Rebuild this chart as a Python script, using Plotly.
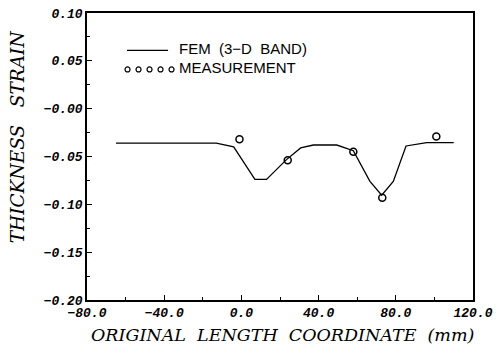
import plotly.graph_objects as go

# FEM (3-D band) curve
fem_x = [-65, -13, -4, 7, 13, 23.5, 30.7, 37.3, 49.4, 58, 66.6, 72.7, 78.7, 85.3, 96, 110]
fem_y = [-0.036, -0.036, -0.040, -0.074, -0.074, -0.053, -0.041, -0.038, -0.038, -0.044, -0.076, -0.0905, -0.076, -0.039, -0.0355, -0.0355]

# Measurements
meas_x = [-1, 24, 58, 73, 101]
meas_y = [-0.032, -0.054, -0.045, -0.093, -0.029]

x_ticks = [-80, -40, 0, 40, 80, 120]
x_ticktext = ["−80.0", "−40.0", "0.0", "40.0", "80.0", "120.0"]
y_ticks = [0.10, 0.05, 0.0, -0.05, -0.10, -0.15, -0.20]
y_ticktext = ["0.10", "0.05", "−0.00", "−0.05", "−0.10", "−0.15", "−0.20"]

tickfont = dict(family="Liberation Mono", size=13, color="black", weight="bold", style="italic")

fig = go.Figure()
fig.add_trace(go.Scatter(x=fem_x, y=fem_y, mode="lines",
                         line=dict(color="black", width=1.3), showlegend=False))
fig.add_trace(go.Scatter(x=meas_x, y=meas_y, mode="markers",
                         marker=dict(symbol="circle-open", size=7, color="black",
                                     line=dict(width=1.5, color="black")),
                         showlegend=False))

# Legend drawn in data space
fig.add_shape(type="line", xref="x", yref="y", x0=-59.3, x1=-38, y0=0.061, y1=0.061,
              line=dict(color="black", width=1.3))
fig.add_trace(go.Scatter(x=[-59, -53.3, -47.6, -41.9, -36.2], y=[0.041] * 5, mode="markers",
                         marker=dict(symbol="circle-open", size=5, color="black",
                                     line=dict(width=1.2, color="black")),
                         showlegend=False, hoverinfo="skip"))
fig.add_annotation(x=-33.5, y=0.063, xref="x", yref="y", text="FEM  (3−D  BAND)",
                   showarrow=False, xanchor="left", yanchor="middle",
                   font=dict(family="Liberation Sans", size=15, color="black"))
fig.add_annotation(x=-33.5, y=0.043, xref="x", yref="y", text="MEASUREMENT",
                   showarrow=False, xanchor="left", yanchor="middle",
                   font=dict(family="Liberation Sans", size=15, color="black"))

# Axis titles
fig.add_annotation(x=0.509, y=-0.122, xref="paper", yref="paper",
                   text="ORIGINAL  LENGTH  COORDINATE  (mm)", showarrow=False,
                   xanchor="center", yanchor="middle",
                   font=dict(family="DejaVu Serif", size=17.5, color="black", style="italic"))
fig.add_annotation(x=-0.179, y=0.57, xref="paper", yref="paper",
                   text="THICKNESS   STRAIN", showarrow=False, textangle=-90,
                   xanchor="center", yanchor="middle",
                   font=dict(family="DejaVu Serif", size=18.5, color="black", style="italic"))

axis_common = dict(showgrid=False, zeroline=False, showline=True, linecolor="black",
                   linewidth=1.5, mirror=True, ticks="inside", ticklen=5,
                   tickcolor="black", tickwidth=1.2, tickfont=tickfont, automargin=False)

fig.update_xaxes(range=[-80, 120], tickvals=x_ticks, ticktext=x_ticktext,
                 minor=dict(tickvals=[-60, -20, 20, 60, 100], ticks="inside", ticklen=3,
                            tickcolor="black"),
                 **axis_common)
fig.update_yaxes(range=[-0.20, 0.10], tickvals=y_ticks, ticktext=y_ticktext,
                 minor=dict(tickvals=[0.075, 0.025, -0.025, -0.075, -0.125, -0.175],
                            ticks="inside", ticklen=3, tickcolor="black"),
                 **axis_common)

fig.update_layout(width=498, height=355, margin=dict(l=87, r=25, t=13, b=55),
                  plot_bgcolor="white", paper_bgcolor="white")

fig.write_html("out.html", config={"displayModeBar": False},
               post_script="document.body.style.margin='0';")
